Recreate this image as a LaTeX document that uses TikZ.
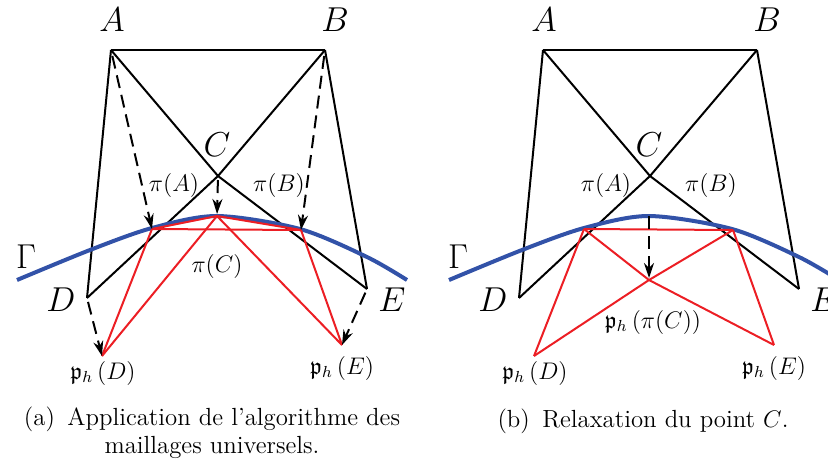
\documentclass[tikz,border=0pt]{standalone}
\usepackage{amssymb}
\usetikzlibrary{arrows.meta}
\definecolor{gammablue}{RGB}{50,82,168}
\definecolor{meshred}{RGB}{236,30,36}

\begin{document}
\begin{tikzpicture}[x=0.5pt,y=-0.5pt,
	edge/.style={ black, line width=1pt },
	redge/.style={ meshred, line width=1pt },
	curve/.style={ gammablue, line width=2pt },
	proj/.style={ black, line width=1pt, dash pattern=on 6.5pt off 3.5pt, -{Stealth[length=7.5pt,width=5pt]} },
	lab/.style={ font=\LARGE, inner sep=0pt },
	slab/.style={ font=\large, inner sep=0pt },
	caption/.style={ font=\fontsize{12.4}{13.8}\selectfont, align=center, inner sep=0pt }
]
\clip (0,0) rectangle (828,467);

% mesh and boundary, both panels
\foreach \p/\s in {a/0,b/432} {
\begin{scope}[shift={(\s,0)}]
\coordinate (\p A) at (111,50);
\coordinate (\p B) at (325,50);
\coordinate (\p C) at (218,176);
\coordinate (\p D) at (87,298);
\coordinate (\p E) at (367,289);
\foreach \u/\v in {A/B,A/D,B/E,A/C,B/C,C/D,C/E} \draw[edge] (\p\u) -- (\p\v);
\draw[curve] plot[smooth] coordinates {(17,280) (90,250) (152,228) (217,216) (300,229) (367,257) (407,280)};
\node[lab] (\p labA) at (112,20) {$A$};
\node[lab] (\p labB) at (335,20) {$B$};
\node[lab] (\p labC) at (217,145) {$C$};
\node[lab] (\p labD) at (61,300) {$D$};
\node[lab] (\p labE) at (392,300) {$E$};
\node[lab] (\p labG) at (26,257) {$\Gamma$};
\node[slab] (\p labpA) at (174,185) {$\pi(A)$};
\node[slab] (\p labpB) at (279,185) {$\pi(B)$};
\node[slab] (\p labhD) at (103,373) {$\mathfrak{p}_h\left(D\right)$};
\node[slab] (\p labhE) at (342,368) {$\mathfrak{p}_h\left(E\right)$};
\coordinate (\p pA) at (152,229);
\coordinate (\p pB) at (301,230);
\coordinate (\p hD) at (102,356);
\coordinate (\p hE) at (342,345);
\end{scope}
}

% (a) projection of the vertices
\coordinate (apC) at (217,216);
\foreach \u/\v in {pA/pC,pC/pB,pA/pB,pA/hD,pC/hD,pC/hE,pB/hE} \draw[redge] (a\u) -- (a\v);
\node[slab] (alabpC) at (217,266) {$\pi(C)$};
\draw[proj, shorten <=3pt] (aA) -- (apA);
\draw[proj, shorten <=3pt] (aB) -- (apB);
\draw[proj, shorten <=2pt, shorten >=1pt] (aC) -- (apC);
\draw[proj, shorten <=2pt] (aD) -- (ahD);
\draw[proj, shorten <=2pt] (aE) -- (ahE);
\node[caption] (capa) at (212,433) {(a)\enspace Application de l'algorithme des\\maillages universels.};

% (b) relaxation
\coordinate (bpC) at (649,216);
\coordinate (bhC) at (649,280);
\foreach \u/\v in {pA/pB,pA/hC,pB/hC,pA/hD,hC/hD,hC/hE,pB/hE} \draw[redge] (b\u) -- (b\v);
\node[slab] (blabhC) at (653,322) {$\mathfrak{p}_h\left(\pi(C)\right)$};
\draw[proj, shorten >=1pt] (bpC) -- (bhC);
\node[caption] (capb) at (643,421) {(b)\enspace Relaxation du point $C$.};

\end{tikzpicture}
\end{document}
